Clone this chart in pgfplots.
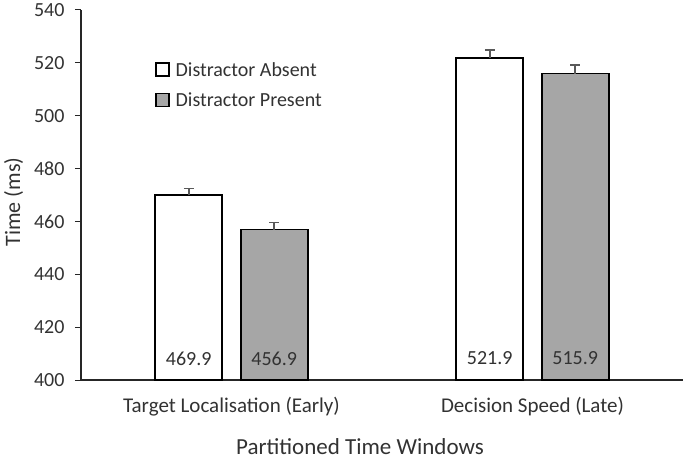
\documentclass[border=0pt]{standalone}
\usepackage{pgfplots}
\pgfplotsset{compat=1.18}
\usepackage{fontspec}
\setmainfont{Carlito}
\definecolor{txt}{RGB}{50,50,50}
\definecolor{barg}{RGB}{166,166,166}
\definecolor{errc}{RGB}{89,89,89}
\begin{document}
\begin{tikzpicture}
\begin{axis}[
  at={(0pt,0pt)}, anchor=south west,
  scale only axis, width=602pt, height=370pt,
  xmin=-0.5, xmax=1.5, ymin=400, ymax=540,
  ytick={400,420,...,540},
  xtick={0,1},
  xticklabels={Target Localisation (Early), Decision Speed (Late)},
  axis x line*=bottom, axis y line*=left,
  axis line style={line width=1.6pt, black!85},
  x axis line style={-}, y axis line style={-},
  major x tick style={draw=none},
  ytick style={line width=1pt, black!85},
  tick align=outside, major tick length=6pt,
  yticklabel style={font=\fontsize{20}{24}\selectfont, text=txt, xshift=-7pt},
  xticklabel style={font=\fontsize{21}{25}\selectfont, text=txt, yshift=-8pt},
  /pgf/number format/assume math mode=true,
  xlabel={Partitioned Time Windows},
  ylabel={Time (ms)},
  xlabel style={font=\fontsize{23}{27}\selectfont, text=txt, yshift=-15pt, xshift=-22pt},
  ylabel style={font=\fontsize{22}{26}\selectfont, text=txt, yshift=4pt, xshift=-7pt},
  ybar, bar width=0.2226,
  legend style={at={(0.118,0.87)}, anchor=north west, draw=none, fill=none,
    font=\fontsize{20}{24}\selectfont, text=txt, row sep=11pt,
    /tikz/every odd column/.append style={column sep=4pt}},
  legend cell align=left,
  legend image code/.code={\draw[#1, line width=1.4pt] (0pt,-6pt) rectangle (13pt,7pt);},
  error bars/error bar style={line width=1.5pt, errc},
  error bars/error mark options={line width=1.5pt, errc, mark size=5pt, rotate=90},
  clip=false,
]
\addplot[bar shift=-0.142, fill=white, draw=black, line width=1.6pt,
  error bars/.cd, y dir=plus, y explicit]
  coordinates {(0,469.9) +- (0,2.6) (1,521.9) +- (0,3.0)};
\addplot[bar shift=0.142, fill=barg, draw=black, line width=1.6pt,
  error bars/.cd, y dir=plus, y explicit]
  coordinates {(0,456.9) +- (0,2.6) (1,515.9) +- (0,3.2)};
\legend{Distractor Absent, Distractor Present}
\node[text=txt, font=\fontsize{20}{24}\selectfont] at (axis cs:-0.142,408.2) {469.9};
\node[text=txt, font=\fontsize{20}{24}\selectfont] at (axis cs:0.142,408.2) {456.9};
\node[text=txt, font=\fontsize{20}{24}\selectfont] at (axis cs:0.858,408.2) {521.9};
\node[text=txt, font=\fontsize{20}{24}\selectfont] at (axis cs:1.142,408.2) {515.9};
\end{axis}
\pgfresetboundingbox
\path[use as bounding box] (-81pt,-80pt) rectangle (604pt,380pt);
\end{tikzpicture}
\end{document}
